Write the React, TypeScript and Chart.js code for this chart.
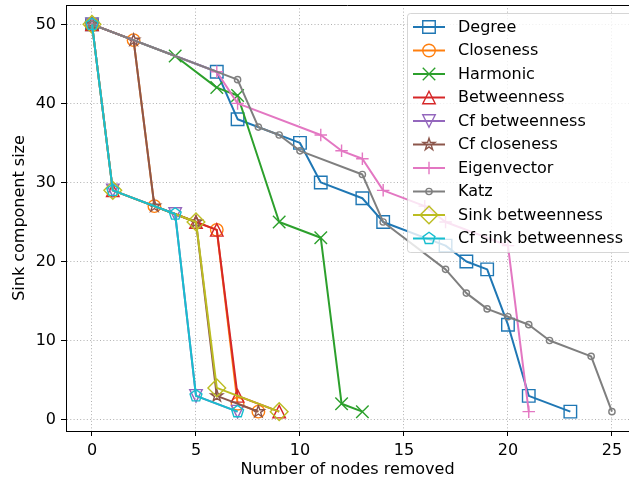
import React, { useEffect, useRef } from 'react';
import { Chart, registerables } from 'chart.js';

Chart.register(...registerables);

// ---- Ticks ----
const xTicks = [0, 5, 10, 15, 20, 25];
const yTicks = [0, 10, 20, 30, 40, 50];

// ---- Series data ----
const degreeX = [0, 6, 7, 10, 11, 13, 14, 17, 18, 19, 20, 21, 23];
const degreeY = [50, 44, 38, 35, 30, 28, 25, 22, 20, 19, 12, 3, 1];

const closenessX = [0, 2, 3, 6, 7, 8];
const closenessY = [50, 48, 27, 24, 2, 1];

const harmonicX = [0, 4, 6, 7, 9, 11, 12, 13];
const harmonicY = [50, 46, 42, 41, 25, 23, 2, 1];

const betweennessX = [0, 1, 5, 6, 7, 9];
const betweennessY = [50, 29, 25, 24, 3, 1];

const cfBetweennessX = [0, 1, 4, 5, 7];
const cfBetweennessY = [50, 29, 26, 3, 1];

const cfClosenessX = [0, 2, 3, 5, 6, 8];
const cfClosenessY = [50, 48, 27, 25, 3, 1];

const eigenvectorX = [0, 6, 7, 11, 12, 13, 14, 16, 17, 20, 21];
const eigenvectorY = [50, 44, 40, 36, 34, 33, 29, 27, 25, 22, 1];

const katzX = [0, 7, 8, 9, 10, 13, 14, 17, 18, 19, 20, 21, 22, 24, 25];
const katzY = [50, 43, 37, 36, 34, 31, 25, 19, 16, 14, 13, 12, 10, 8, 1];

const sinkBetweennessX = [0, 1, 5, 6, 9];
const sinkBetweennessY = [50, 29, 25, 4, 1];

const cfSinkBetweennessX = [0, 1, 4, 5, 7];
const cfSinkBetweennessY = [50, 29, 26, 3, 1];

const labels = [
  'Degree', 'Closeness', 'Harmonic', 'Betweenness', 'Cf betweenness',
  'Cf closeness', 'Eigenvector', 'Katz', 'Sink betweenness', 'Cf sink betweenness',
];
const colors = [
  '#1f77b4', '#ff7f0e', '#2ca02c', '#d62728', '#9467bd',
  '#8c564b', '#e377c2', '#7f7f7f', '#bcbd22', '#17becf',
];
const markers = ['s', 'o', 'x', '^', 'v', '*', '+', '.', 'D', 'p'];
const xs = [degreeX, closenessX, harmonicX, betweennessX, cfBetweennessX, cfClosenessX, eigenvectorX, katzX, sinkBetweennessX, cfSinkBetweennessX];
const ys = [degreeY, closenessY, harmonicY, betweennessY, cfBetweennessY, cfClosenessY, eigenvectorY, katzY, sinkBetweennessY, cfSinkBetweennessY];

const FONT = '"DejaVu Sans", sans-serif';

function drawMarker(ctx: CanvasRenderingContext2D, m: string, x: number, y: number, color: string) {
  const ms = 12.5;
  const h = ms / 2;
  ctx.save();
  ctx.strokeStyle = color;
  ctx.lineWidth = 1.4;
  ctx.lineJoin = 'miter';
  ctx.setLineDash([]);
  ctx.beginPath();
  switch (m) {
    case 's':
      ctx.rect(x - h, y - h, ms, ms);
      break;
    case 'o':
      ctx.arc(x, y, h, 0, Math.PI * 2);
      break;
    case '.':
      ctx.arc(x, y, h / 2, 0, Math.PI * 2);
      break;
    case 'x':
      ctx.moveTo(x - h, y - h); ctx.lineTo(x + h, y + h);
      ctx.moveTo(x - h, y + h); ctx.lineTo(x + h, y - h);
      break;
    case '+':
      ctx.moveTo(x - h, y); ctx.lineTo(x + h, y);
      ctx.moveTo(x, y - h); ctx.lineTo(x, y + h);
      break;
    case '^':
      ctx.moveTo(x, y - h); ctx.lineTo(x - h, y + h); ctx.lineTo(x + h, y + h); ctx.closePath();
      break;
    case 'v':
      ctx.moveTo(x, y + h); ctx.lineTo(x - h, y - h); ctx.lineTo(x + h, y - h); ctx.closePath();
      break;
    case 'D': {
      const d = h * Math.SQRT2;
      ctx.moveTo(x, y - d); ctx.lineTo(x + d, y); ctx.lineTo(x, y + d); ctx.lineTo(x - d, y); ctx.closePath();
      break;
    }
    case 'p':
      for (let k = 0; k < 5; k++) {
        const a = -Math.PI / 2 + (k * 2 * Math.PI) / 5;
        const px = x + h * Math.cos(a), py = y + h * Math.sin(a);
        if (k === 0) ctx.moveTo(px, py); else ctx.lineTo(px, py);
      }
      ctx.closePath();
      break;
    case '*':
      for (let k = 0; k < 10; k++) {
        const a = -Math.PI / 2 + (k * Math.PI) / 5;
        const r = k % 2 === 0 ? h : h * 0.381966;
        const px = x + r * Math.cos(a), py = y + r * Math.sin(a);
        if (k === 0) ctx.moveTo(px, py); else ctx.lineTo(px, py);
      }
      ctx.closePath();
      break;
  }
  ctx.stroke();
  ctx.restore();
}

const markerPlugin = {
  id: 'mplMarkers',
  afterDatasetDraw(chart: any, args: any) {
    const ds = chart.data.datasets[args.index];
    const ctx = chart.ctx;
    args.meta.data.forEach((pt: any) => {
      drawMarker(ctx, ds.marker, pt.x, pt.y, ds.borderColor);
    });
  },
};

const framePlugin = {
  id: 'mplFrame',
  afterDraw(chart: any) {
    const ctx = chart.ctx as CanvasRenderingContext2D;
    const a = chart.chartArea;
    // top spine
    ctx.save();
    ctx.strokeStyle = '#000';
    ctx.lineWidth = 1;
    ctx.beginPath();
    ctx.moveTo(a.left, Math.round(a.top) + 0.5);
    ctx.lineTo(a.right, Math.round(a.top) + 0.5);
    ctx.stroke();

    // legend
    const lx = 407.5, ly = 13.5, lw = 240, lh = 239, r = 3;
    ctx.beginPath();
    ctx.moveTo(lx + r, ly);
    ctx.lineTo(lx + lw - r, ly);
    ctx.arcTo(lx + lw, ly, lx + lw, ly + r, r);
    ctx.lineTo(lx + lw, ly + lh - r);
    ctx.arcTo(lx + lw, ly + lh, lx + lw - r, ly + lh, r);
    ctx.lineTo(lx + r, ly + lh);
    ctx.arcTo(lx, ly + lh, lx, ly + lh - r, r);
    ctx.lineTo(lx, ly + r);
    ctx.arcTo(lx, ly, lx + r, ly, r);
    ctx.closePath();
    ctx.fillStyle = 'rgba(255,255,255,0.8)';
    ctx.fill();
    ctx.strokeStyle = 'rgba(204,204,204,0.8)';
    ctx.lineWidth = 1;
    ctx.stroke();

    chart.data.datasets.forEach((ds: any, i: number) => {
      const yc = 27 + i * 23.5;
      ctx.strokeStyle = ds.borderColor;
      ctx.lineWidth = 2;
      ctx.beginPath();
      ctx.moveTo(413, yc);
      ctx.lineTo(445, yc);
      ctx.stroke();
      drawMarker(ctx, ds.marker, 429, yc, ds.borderColor);
      ctx.fillStyle = '#000';
      ctx.font = `16px ${FONT}`;
      ctx.textBaseline = 'middle';
      ctx.textAlign = 'left';
      ctx.fillText(ds.label, 458, yc + 0.5);
    });
    ctx.restore();
  },
};

export default function App() {
  const ref = useRef<HTMLCanvasElement | null>(null);

  useEffect(() => {
    if (!ref.current) return;
    const N = labels.length;
    const datasets = labels.map((label, i) => ({
      label,
      data: xs[i].map((x, j) => ({ x, y: ys[i][j] })),
      borderColor: colors[i],
      backgroundColor: colors[i],
      borderWidth: 2,
      borderJoinStyle: 'round',
      pointRadius: 0,
      pointHoverRadius: 0,
      pointHitRadius: 0,
      tension: 0,
      fill: false,
      order: N - i,
      marker: markers[i],
    }));

    const tickFont = { family: FONT, size: 16 };
    const chart = new Chart(ref.current, {
      type: 'line',
      data: { datasets } as any,
      options: {
        animation: false,
        responsive: false,
        devicePixelRatio: 1,
        layout: { padding: { top: 5, right: 0, left: 0, bottom: 0 } },
        plugins: { legend: { display: false }, tooltip: { enabled: false } },
        events: [],
        scales: {
          x: {
            type: 'linear',
            min: -1.25,
            max: 25.82,
            afterBuildTicks: (s: any) => { s.ticks = xTicks.map((v) => ({ value: v })); },
            afterFit: (s: any) => { s.height = 52; s.paddingLeft = 0; s.paddingRight = 0; },
            grid: { color: '#b0b0b0', lineWidth: 1, tickColor: '#000', tickLength: 5, tickWidth: 1, tickBorderDash: [] },
            border: { display: true, color: '#000', width: 1, dash: [1, 2.3] },
            ticks: { font: tickFont, color: '#000', padding: 5, maxRotation: 0, autoSkip: false },
            title: { display: true, text: 'Number of nodes removed', font: tickFont, color: '#000', padding: { top: 0, bottom: 4 } },
          },
          y: {
            type: 'linear',
            min: -1.45,
            max: 52.45,
            afterBuildTicks: (s: any) => { s.ticks = yTicks.map((v) => ({ value: v })); },
            afterFit: (s: any) => { s.width = 66; s.paddingTop = 0; s.paddingBottom = 0; },
            grid: { color: '#b0b0b0', lineWidth: 1, tickColor: '#000', tickLength: 5, tickWidth: 1, tickBorderDash: [] },
            border: { display: true, color: '#000', width: 1, dash: [1, 2.3] },
            ticks: { font: tickFont, color: '#000', padding: 5, autoSkip: false },
            title: { display: true, text: 'Sink component size', font: tickFont, color: '#000', padding: { top: 10, bottom: 0 } },
          },
        },
      } as any,
      plugins: [markerPlugin, framePlugin],
    });
    return () => chart.destroy();
  }, []);

  return (
    <div style={{ position: 'absolute', left: 0, top: 0, width: 629, height: 483, background: '#fff' }}>
      <canvas ref={ref} width={629} height={483} style={{ width: 629, height: 483, display: 'block' }} />
    </div>
  );
}
